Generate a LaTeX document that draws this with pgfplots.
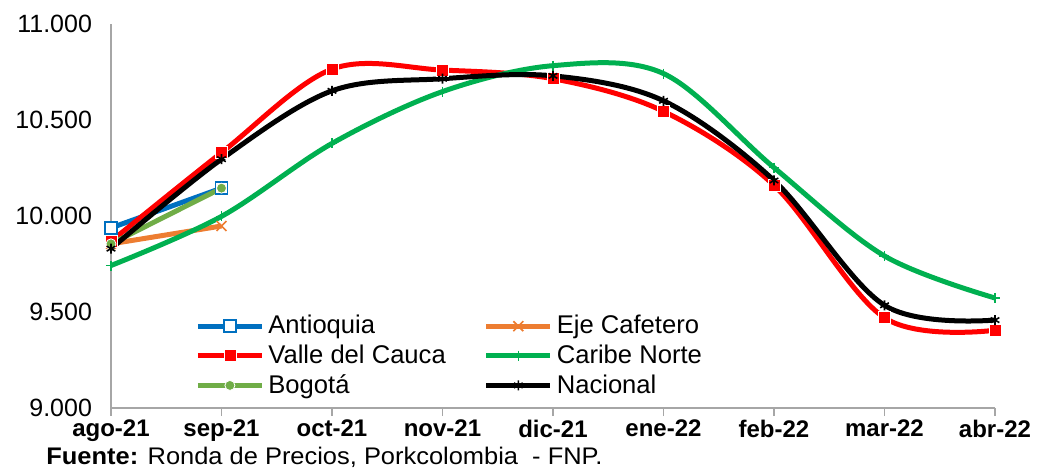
\documentclass[border=0pt]{standalone}
\usepackage{pgfplots}
\pgfplotsset{compat=1.18}
\usepackage{fontspec}
\setmainfont{Liberation Sans}
\usepackage{graphicx}

\definecolor{antioquia}{HTML}{0070C0}
\definecolor{eje}{HTML}{ED7D31}
\definecolor{valle}{HTML}{FF0000}
\definecolor{caribe}{HTML}{00B050}
\definecolor{bogota}{HTML}{70AD47}
\definecolor{axisgray}{HTML}{A6A6A6}

\begin{document}
\begin{tikzpicture}
\begin{axis}[
    scale only axis,
    width=442pt, height=192pt,
    xmin=0, xmax=8, ymin=9000, ymax=11000,
    axis x line*=bottom, axis y line*=left,
    axis line style={axisgray, line width=0.8pt},
    xtick={0,...,8},
    xticklabels={ago-21,sep-21,oct-21,nov-21,dic-21,ene-22,feb-22,mar-22,abr-22},
    x tick label style={font=\fontsize{12}{14}\selectfont\bfseries, yshift=1.5pt},
    xtick style={axisgray, line width=0.8pt},
    xtick align=outside, major tick length=4pt,
    ytick={9000,9500,10000,10500,11000},
    ytick style={draw=none},
    y tick label style={font=\fontsize{12.5}{14}\selectfont, xshift=-6pt},
    scaled y ticks=false,
    /pgf/number format/.cd, 1000 sep={.}, assume math mode=true,
    /pgfplots/.cd,
    clip=false,
    every axis plot/.append style={line width=2.5pt, smooth, tension=0.55},
    legend style={draw=none, fill=none, at={(39pt,42.5pt+8pt)}, anchor=north west,
        font=\fontsize{12.8}{14}\selectfont, legend columns=2,
        /tikz/every even column/.append style={column sep=17pt},
        row sep=0pt},
    legend cell align=left,
    legend image code/.code={\draw[mark repeat=2, mark phase=2] plot coordinates {(0pt,0pt) (16pt,0pt) (32pt,0pt)};},
]
\addplot[antioquia, mark=square*, mark options={fill=white, line width=0.8pt, solid}, mark size=3pt]
  coordinates {(0,9938) (1,10145)};
\addlegendentry{Antioquia}
\addplot[eje, mark=x, mark options={line width=0.8pt}, mark size=3.5pt]
  coordinates {(0,9855) (1,9948)};
\addlegendentry{Eje Cafetero}
\addplot[valle, mark=square*, mark size=3pt, mark options={draw=white, line width=0.4pt}]
  coordinates {(0,9868) (1,10330) (2,10765) (3,10760) (4,10715) (5,10545) (6,10160) (7,9470) (8,9405)};
\addlegendentry{Valle del Cauca}
\addplot[caribe, mark=+, mark size=2.5pt, mark options={line width=0.8pt, draw=caribe}]
  coordinates {(0,9742) (1,9998) (2,10378) (3,10648) (4,10783) (5,10742) (6,10252) (7,9792) (8,9573)};
\addlegendentry{Caribe Norte}
\addplot[bogota, mark=*, mark size=2.5pt, mark options={draw=white, line width=0.4pt}]
  coordinates {(0,9855) (1,10145)};
\addlegendentry{Bogotá}
\addplot[black, mark=asterisk, mark size=2.5pt, mark options={line width=0.8pt}]
  coordinates {(0,9830) (1,10296) (2,10652) (3,10715) (4,10730) (5,10600) (6,10185) (7,9535) (8,9458)};
\addlegendentry{Nacional}
\end{axis}
\node[anchor=west, inner sep=0pt] at (-32.5pt,-24.5pt)
  {\scalebox{1.06}[1]{\fontsize{12}{14}\selectfont\textbf{Fuente:} Ronda de Precios, Porkcolombia\ \ - FNP.}};
\path[use as bounding box] (-55.5pt,-30pt) rectangle (463.5pt,204pt);
\end{tikzpicture}
\end{document}
